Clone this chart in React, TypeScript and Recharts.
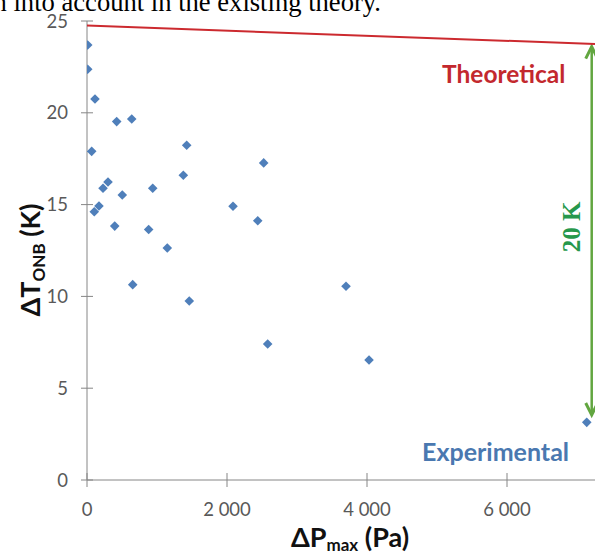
import React from 'react';
import { ScatterChart, Scatter, XAxis, YAxis, ReferenceLine } from 'recharts';

// Experimental points (ΔP_max in Pa, ΔT_ONB in K)
const expX = [10, 10, 114, 67, 424, 639, 1424, 1376, 2524, 300, 229, 504, 939, 2086, 2439, 171, 104, 396, 881, 1147, 653, 1461, 3700, 2581, 4029, 7139];
const expY = [23.69, 22.37, 20.75, 17.9, 19.52, 19.66, 18.23, 16.6, 17.27, 16.23, 15.89, 15.52, 15.89, 14.91, 14.12, 14.92, 14.61, 13.83, 13.64, 12.64, 10.64, 9.75, 10.55, 7.41, 6.54, 3.14];

// Theoretical line
const theoryX = [0, 7257];
const theoryY = [24.75, 23.75];

// Ticks
const xTicks = [0, 2000, 4000, 6000];
const xTickLabels = ['0', '2 000', '4 000', '6 000'];
const yTicks = [0, 5, 10, 15, 20, 25];

// Annotation arrow (20 K gap)
const arrowX = [7210, 7210];
const arrowY = [23.6, 3.54];

const expData = expX.map((x, i) => ({ x, y: expY[i] }));
const theoryData = theoryX.map((x, i) => ({ x, y: theoryY[i] }));

const AXIS = '#868686';
const TICK_TEXT = '#595959';
const SANS = 'Lato, "Liberation Sans", sans-serif';

const Diamond = (props: any) => {
  const { cx, cy } = props;
  const r = 4.8;
  return (
    <polygon
      points={`${cx},${cy - r} ${cx + r},${cy} ${cx},${cy + r} ${cx - r},${cy}`}
      fill="#4f7fba"
    />
  );
};

const XTick = (props: any) => {
  const { x, y, payload } = props;
  const idx = xTicks.indexOf(payload.value);
  return (
    <g>
      <line x1={x} x2={x} y1={y - 7} y2={y + 7} stroke={AXIS} strokeWidth={1} />
      <text x={x} y={y + 36} textAnchor="middle" fill={TICK_TEXT} fontSize={18.5} fontFamily={SANS}>
        {idx >= 0 ? xTickLabels[idx] : payload.value}
      </text>
    </g>
  );
};

const YTick = (props: any) => {
  const { x, y, payload } = props;
  return (
    <g>
      <line x1={x - 6} x2={x + 6} y1={y} y2={y} stroke={AXIS} strokeWidth={1} />
      <text x={x - 19} y={y + 6.5} textAnchor="end" fill={TICK_TEXT} fontSize={18.5} fontFamily={SANS}>
        {payload.value}
      </text>
    </g>
  );
};

const XTitle = (props: any) => {
  const vb = props.viewBox || {};
  const cx = vb.x + vb.width / 2 + 9;
  return (
    <text x={cx} y={547} textAnchor="middle" fontSize={27} fontWeight="bold" fontFamily={SANS} fill="#111">
      <tspan>ΔP</tspan>
      <tspan fontSize={17} dy={4}>max</tspan>
      <tspan dy={-4}> (Pa)</tspan>
    </text>
  );
};

const YTitle = () => {
  const cx = 40;
  const cy = 260;
  return (
    <text
      x={cx}
      y={cy}
      transform={`rotate(-90 ${cx} ${cy})`}
      textAnchor="middle"
      fontSize={27}
      fontWeight="bold"
      fontFamily={SANS}
      fill="#111"
    >
      <tspan>ΔT</tspan>
      <tspan fontSize={17} dy={5}>ONB</tspan>
      <tspan dy={-5}> (K)</tspan>
    </text>
  );
};

const Arrow = (props: any) => {
  const { x1, y1, x2, y2 } = props;
  const top = Math.min(y1, y2);
  const bot = Math.max(y1, y2);
  const x = x1;
  const green = '#62a640';
  const mid = (top + bot) / 2 - 4;
  return (
    <g>
      <line x1={x} x2={x2} y1={top} y2={bot} stroke={green} strokeWidth={2.5} />
      <polyline points={`${x - 6},${top + 12} ${x},${top} ${x + 6},${top + 12}`} fill="none" stroke={green} strokeWidth={3} />
      <polyline points={`${x - 6},${bot - 12} ${x},${bot} ${x + 6},${bot - 12}`} fill="none" stroke={green} strokeWidth={3} />
      <text
        x={x - 12}
        y={mid}
        transform={`rotate(-90 ${x - 12} ${mid})`}
        textAnchor="middle"
        fontSize={25}
        fontWeight="bold"
        fontFamily='"Liberation Serif", "DejaVu Serif", serif'
        fill="#26984c"
      >
        20 K
      </text>
    </g>
  );
};

const NoShape = () => <g />;

export default function App() {
  return (
    <div style={{ position: 'absolute', left: 0, top: 0, width: 595, height: 556, overflow: 'hidden', background: '#fff' }}>
      <svg width={595} height={30} style={{ position: 'absolute', left: 0, top: 0 }}>
        <text x={381} y={11} textAnchor="end" fontSize={26.6} fontFamily='"Liberation Serif", serif' fill="#000">
          en into account in the existing theory.
        </text>
      </svg>
      <div style={{ position: 'absolute', left: 0, top: 0 }}>
        <ScatterChart width={595} height={556} margin={{ top: 21, right: 0, bottom: 0, left: 0 }}>
          <XAxis
            type="number"
            dataKey="x"
            domain={[0, 7257]}
            ticks={xTicks}
            allowDataOverflow
            height={76}
            stroke={AXIS}
            tickLine={false}
            tickSize={0}
            tickMargin={0}
            tick={<XTick />}
            label={<XTitle />}
          />
          <YAxis
            type="number"
            dataKey="y"
            domain={[0, 25]}
            ticks={yTicks}
            allowDataOverflow
            width={87}
            stroke={AXIS}
            tickLine={false}
            tickSize={0}
            tickMargin={0}
            tick={<YTick />}
            label={<YTitle />}
          />
          <Scatter
            name="Theoretical"
            data={theoryData}
            line={{ stroke: '#cc2a2f', strokeWidth: 2 }}
            shape={<NoShape />}
            isAnimationActive={false}
          />
          <Scatter name="Experimental" data={expData} shape={<Diamond />} isAnimationActive={false} />
          <ReferenceLine
            segment={[
              { x: arrowX[0], y: arrowY[0] },
              { x: arrowX[1], y: arrowY[1] },
            ]}
            shape={<Arrow />}
            ifOverflow="visible"
          />
        </ScatterChart>
      </div>
      <div
        style={{
          position: 'absolute',
          left: 442,
          top: 59,
          fontFamily: SANS,
          fontWeight: 'bold',
          fontSize: 24.5,
          color: '#c3282e',
          lineHeight: '30px',
          whiteSpace: 'nowrap',
        }}
      >
        Theoretical
      </div>
      <div
        style={{
          position: 'absolute',
          left: 422,
          top: 436,
          fontFamily: SANS,
          fontWeight: 'bold',
          fontSize: 25,
          color: '#4a78b0',
          lineHeight: '30px',
          whiteSpace: 'nowrap',
        }}
      >
        Experimental
      </div>
    </div>
  );
}
